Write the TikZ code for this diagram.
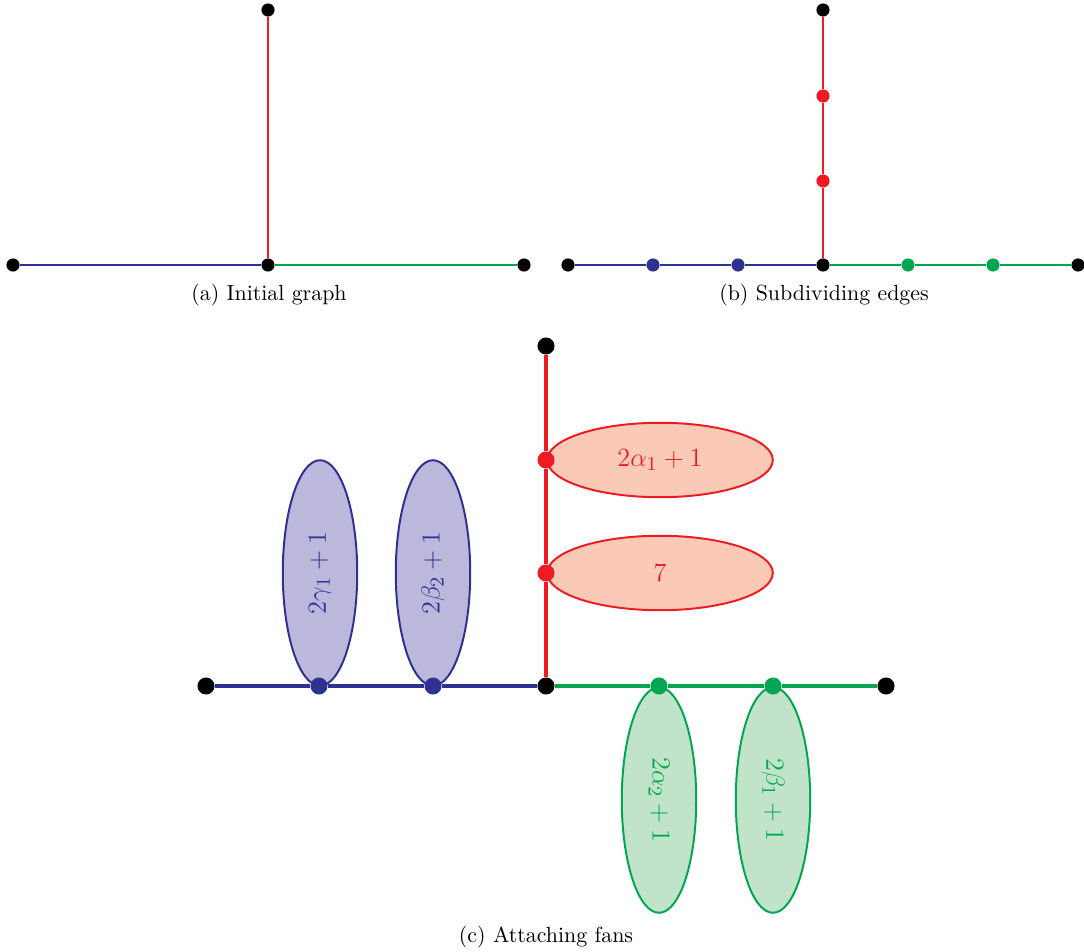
\documentclass[tikz,border=0pt]{standalone}
\usetikzlibrary{shapes.geometric}
\definecolor{cblue}{RGB}{46,49,146}
\definecolor{cred}{RGB}{237,28,36}
\definecolor{cgreen}{RGB}{0,166,81}
\definecolor{fblue}{RGB}{187,184,220}
\definecolor{fred}{RGB}{251,202,182}
\definecolor{fgreen}{RGB}{193,227,202}
\begin{document}
\begin{tikzpicture}[x=0.4566pt,y=-0.4566pt,
  sdot/.style={circle,fill=#1,inner sep=0pt,minimum size=6pt},
  bdot/.style={circle,fill=#1,inner sep=0pt,minimum size=7.8pt},
  thinedge/.style={line width=1.35pt,draw=#1},
  thickedge/.style={line width=1.8pt,draw=#1},
  fanh/.style={ellipse,draw=c#1,fill=f#1,line width=0.9pt,inner sep=0pt,minimum width=103pt,minimum height=34pt,text=c#1,font=\fontsize{12.4}{15}\selectfont},
  fanv/.style={ellipse,draw=c#1,fill=f#1,line width=0.9pt,inner sep=0pt,minimum width=34pt,minimum height=103pt,text=c#1,font=\fontsize{12.4}{15}\selectfont},
  captext/.style={font=\fontsize{10}{12}\selectfont}]
\useasboundingbox (0,0) rectangle (1084,952);
% (a)
\node[sdot=black] (aT) at (268,10) {};
\node[sdot=black] (aC) at (268,265) {};
\node[sdot=black] (aL) at (13,265) {};
\node[sdot=black] (aR) at (524,265) {};
\draw[thinedge=cred] (aT) -- (aC);
\draw[thinedge=cblue] (aL) -- (aC);
\draw[thinedge=cgreen] (aC) -- (aR);
\node[captext] (capa) at (269,295) {(a) Initial graph};
% (b)
\node[sdot=black] (bT) at (823,10) {};
\node[sdot=black] (bC) at (823,265) {};
\node[sdot=black] (bL) at (568,265) {};
\node[sdot=black] (bR) at (1078,265) {};
\node[sdot=cred] (br1) at (823,96) {};
\node[sdot=cred] (br2) at (823,181) {};
\node[sdot=cblue] (bb1) at (653,265) {};
\node[sdot=cblue] (bb2) at (738,265) {};
\node[sdot=cgreen] (bg1) at (908,265) {};
\node[sdot=cgreen] (bg2) at (993,265) {};
\draw[thinedge=cred] (bT) -- (br1) -- (br2) -- (bC);
\draw[thinedge=cblue] (bL) -- (bb1) -- (bb2) -- (bC);
\draw[thinedge=cgreen] (bC) -- (bg1) -- (bg2) -- (bR);
\node[captext] (capb) at (824,295) {(b) Subdividing edges};
% (c)
\node[fanh=red] (er1) at (660,460) {$2\alpha_1+1$};
\node[fanh=red] (er2) at (660,573) {$7$};
\node[fanv=blue] (eb1) at (320,573) {\rotatebox{90}{$2\gamma_1+1$}};
\node[fanv=blue] (eb2) at (433,573) {\rotatebox{90}{$2\beta_2+1$}};
\node[fanv=green] (eg1) at (659,800) {\rotatebox{-90}{$2\alpha_2+1$}};
\node[fanv=green] (eg2) at (773,800) {\rotatebox{-90}{$2\beta_1+1$}};
\node[bdot=black] (cT) at (546,346) {};
\node[bdot=black] (cC) at (546,686) {};
\node[bdot=black] (cL) at (206,686) {};
\node[bdot=black] (cR) at (886,686) {};
\node[bdot=cred] (cr1) at (546,460) {};
\node[bdot=cred] (cr2) at (546,573) {};
\node[bdot=cblue] (cb1) at (319,686) {};
\node[bdot=cblue] (cb2) at (433,686) {};
\node[bdot=cgreen] (cg1) at (659,686) {};
\node[bdot=cgreen] (cg2) at (773,686) {};
\draw[thickedge=cred] (cT) -- (cr1) -- (cr2) -- (cC);
\draw[thickedge=cblue] (cL) -- (cb1) -- (cb2) -- (cC);
\draw[thickedge=cgreen] (cC) -- (cg1) -- (cg2) -- (cR);
\node[captext] (capc) at (546,937) {(c) Attaching fans};
\end{tikzpicture}
\end{document}
